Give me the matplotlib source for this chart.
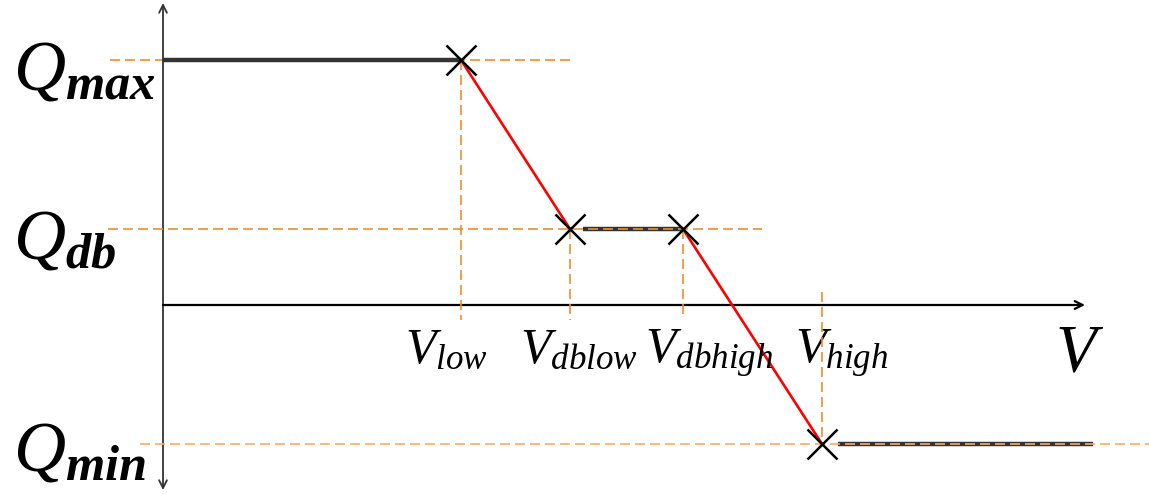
import matplotlib
matplotlib.use('Agg')
import matplotlib.pyplot as plt

# Характерні точки кривої Q(V) (умовні одиниці)
v_names = ['low', 'dblow', 'dbhigh', 'high']
v_points = [2.98, 4.07, 5.20, 6.59]
q_names = ['max', 'db', 'min']
q_levels = [2.45, 0.76, -1.39]
q_max, q_db, q_min = q_levels

# Плоскі ділянки (чорні) і похилі (червоні)
flat_v = [[0.0, 2.98], [4.20, 5.20], [6.75, 9.30]]
flat_q = [q_max, q_db, q_min]
slope_v = [[2.98, 4.07], [5.20, 6.59]]
slope_q = [[q_max, q_db], [q_db, q_min]]

# Пунктирні напрямні
hguide_v = [[-0.53, 4.07], [-0.55, 5.99], [-0.23, 9.86]]
vguide_q = [[q_max, -0.15], [q_db, -0.15], [q_db, -0.13], [0.13, q_min]]

plt.rcParams['mathtext.fontset'] = 'custom'
plt.rcParams['mathtext.it'] = 'Liberation Serif:italic'
plt.rcParams['mathtext.bf'] = 'Liberation Serif:italic:bold'
plt.rcParams['mathtext.rm'] = 'Liberation Serif'

fig = plt.figure(figsize=(11.49, 4.94), dpi=100)
ax = fig.add_axes([0, 0, 1, 1])
ax.set_xlim(-1.63, 9.86)
ax.set_ylim(-1.89, 3.05)
ax.axis('off')

orange = '#EE8F2A'
light_orange = '#F4AE6A'

# Осі
ax.annotate('', xy=(0, 3.02), xytext=(0, -1.85),
            arrowprops=dict(arrowstyle='<->', color='#333333', lw=1.3,
                            mutation_scale=14, shrinkA=0, shrinkB=0))
ax.annotate('', xy=(9.22, 0), xytext=(0, 0),
            arrowprops=dict(arrowstyle='->', color='black', lw=1.6,
                            mutation_scale=14, shrinkA=0, shrinkB=0))

# Напрямні
z_guide = [2, 4, 4]
for i, (xs, q) in enumerate(zip(hguide_v, q_levels)):
    c = light_orange if i == 2 else orange
    ax.plot(xs, [q, q], '--', color=c, lw=1.2, dashes=(6, 3), zorder=z_guide[i])
for v, qs in zip(v_points, vguide_q):
    ax.plot([v, v], qs, '--', color=orange, lw=1.2, dashes=(6, 3), zorder=4)

# Крива
for xs, q in zip(flat_v, flat_q):
    ax.plot(xs, [q, q], color='#333333', lw=3.2, zorder=3, solid_capstyle='butt')
for xs, qs in zip(slope_v, slope_q):
    ax.plot(xs, qs, color='red', lw=1.9, zorder=3)

marker_q = [q_max, q_db, q_db, q_min]
ax.plot(v_points, marker_q, 'x', color='black', ms=22, mew=1.8, zorder=5,
        linestyle='none')

# Підписи
q_label_y = [2.15, 0.46, -1.65]
for name, y in zip(q_names, q_label_y):
    ax.text(-1.50, y, r'$Q_{\mathbf{%s}}$' % name, fontsize=52,
            ha='left', va='baseline')

v_label_x = [2.42, 3.57, 4.82, 6.32]
for name, x in zip(v_names, v_label_x):
    ax.text(x, -0.58, r'$V_{%s}$' % name, fontsize=36,
            ha='left', va='baseline')
ax.text(8.92, -0.65, r'$V$', fontsize=48, ha='left', va='baseline')

fig.savefig('out.png', dpi=100)
